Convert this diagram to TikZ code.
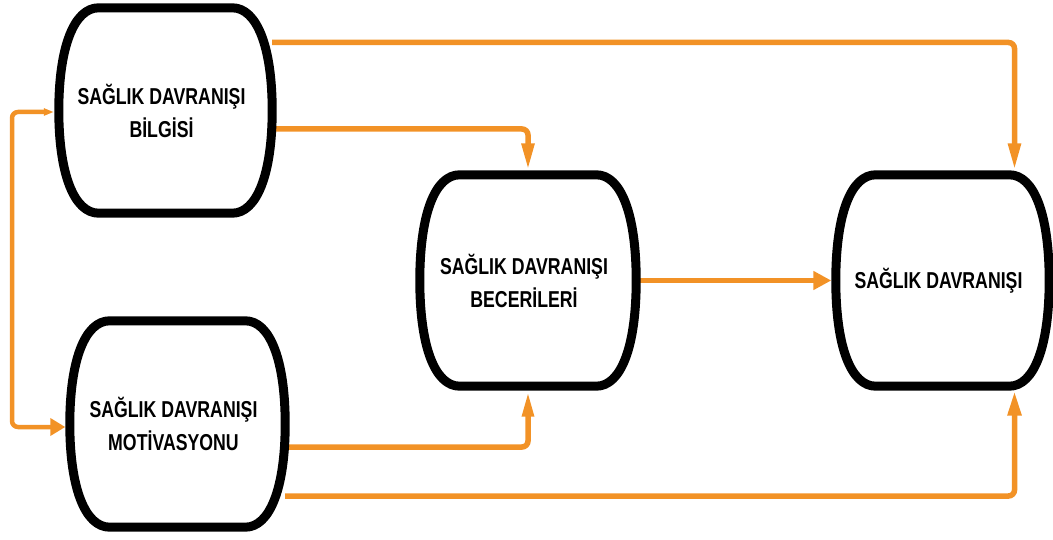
\documentclass[tikz,border=0pt]{standalone}
\usepackage{fontspec}
\newfontfamily\lblfont{Liberation Sans}[FakeStretch=0.77]
\usetikzlibrary{arrows.meta,calc}
\pgfdeclarelayer{links}
\pgfdeclarelayer{shapes}
\pgfsetlayers{links,shapes,main}
\definecolor{linkorange}{RGB}{242,146,38}
\tikzset{
  anchorbox/.style={rectangle, draw=none, inner sep=0pt},
  boxline/.style={draw=black, line width=9pt, fill=white, line join=round},
  lbl/.style={font=\lblfont\bfseries\fontsize{23pt}{33pt}\selectfont, align=center, inner sep=0pt},
  link/.style={draw=linkorange, line width=5.5pt, rounded corners=6pt},
}
% barrel outline: flat top and bottom, bulging sides, round corners
\newcommand\barrel[1]{%
  \begin{pgfonlayer}{shapes}
    \draw[boxline] ($(#1.north west)+(40,0)$) -- ($(#1.north east)+(-40,0)$)
      .. controls ($(#1.north east)+(-15,0)$) and ($(#1.north east)+(0,40)$) .. (#1.east)
      .. controls ($(#1.south east)+(0,-40)$) and ($(#1.south east)+(-15,0)$) .. ($(#1.south east)+(-40,0)$)
      -- ($(#1.south west)+(40,0)$)
      .. controls ($(#1.south west)+(15,0)$) and ($(#1.south west)+(0,-40)$) .. (#1.west)
      .. controls ($(#1.north west)+(0,40)$) and ($(#1.north west)+(15,0)$) .. cycle;
  \end{pgfonlayer}}
\begin{document}
\begin{tikzpicture}[x=1pt, y=-1pt]
  \useasboundingbox (0,0) rectangle (1053,540);

  % boxes
  \node[anchorbox, minimum width=213pt, minimum height=205pt] (b1) at (165.5,110.5) {};
  \node[anchorbox, minimum width=215pt, minimum height=206pt] (b2) at (177.5,424) {};
  \node[anchorbox, minimum width=216pt, minimum height=211pt] (b3) at (528,280.5) {};
  \node[anchorbox, minimum width=213pt, minimum height=211pt] (b4) at (942.5,280.5) {};
  \barrel{b1}\barrel{b2}\barrel{b3}\barrel{b4}

  % labels
  \node[lbl, xshift=-4pt] (t1) at (b1) {SAĞLIK DAVRANIŞI\\BİLGİSİ};
  \node[lbl, xshift=-4pt] (t2) at (b2) {SAĞLIK DAVRANIŞI\\MOTİVASYONU};
  \node[lbl, xshift=-4pt] (t3) at (b3) {SAĞLIK DAVRANIŞI\\BECERİLERİ};
  \node[lbl, xshift=-4pt] (t4) at (b4) {SAĞLIK DAVRANIŞI};

  % connectors
  \coordinate (rail) at (12,270);
  \begin{pgfonlayer}{links}
    \draw[link, -{Triangle[length=27pt,width=12pt]}]
      ([yshift=68pt]b1.east) -| ([xshift=72pt,yshift=4.5pt]b4.north);
    \draw[link, -{Triangle[length=27pt,width=12pt]}]
      ([yshift=-18.5pt]b1.east) -| ([yshift=4.5pt]b3.north);
    \draw[link, -{Triangle[length=18pt,width=18pt]}]
      (b3.east) -- ([xshift=-4.5pt]b4.west);
    \draw[link, -{Triangle[length=26pt,width=11pt]}]
      ([yshift=-23pt]b2.east) -| ([yshift=-4.5pt]b3.south);
    \draw[link, -{Triangle[length=25pt,width=13pt]}]
      ([yshift=-72pt]b2.east) -| ([xshift=72pt,yshift=-4.5pt]b4.south);
    \draw[link, line width=4.5pt, {Triangle[length=10pt,width=7pt]}-{Triangle[length=15pt,width=17pt]}]
      ([xshift=-5pt,yshift=-1.5pt]b1.west) -| (rail) |- ([xshift=-4.5pt,yshift=-3pt]b2.west);
  \end{pgfonlayer}
\end{tikzpicture}
\end{document}
